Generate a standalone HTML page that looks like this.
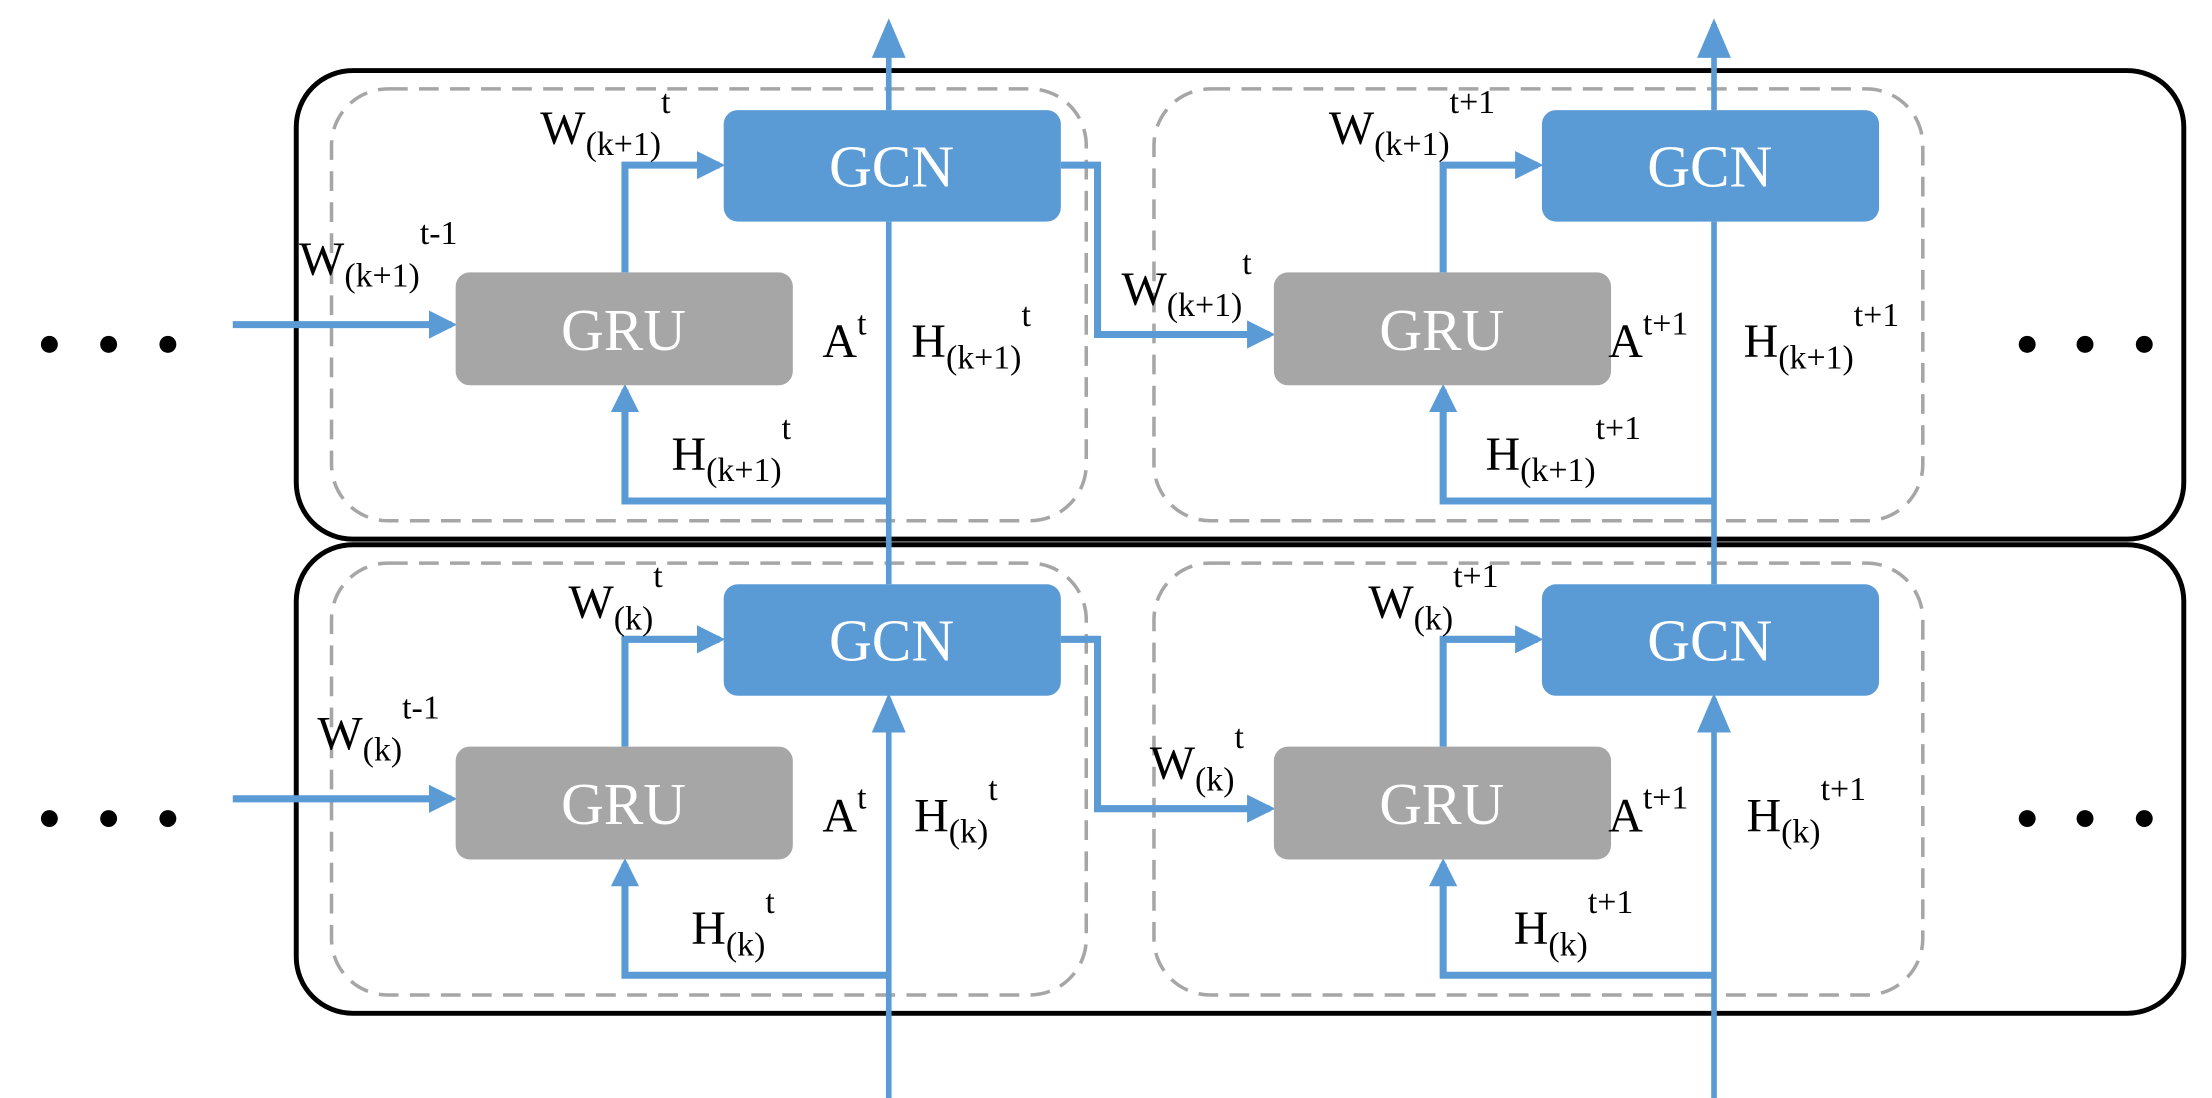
<!DOCTYPE html>
<html><head><meta charset="utf-8"><style>html,body{margin:0;padding:0;background:#fff}svg{display:block}svg text{font-family:"Liberation Serif","DejaVu Serif","Times New Roman",serif}</style></head>
<body>
<svg width="2212" height="1098" viewBox="0 0 1568 778" preserveAspectRatio="none" xmlns="http://www.w3.org/2000/svg">
<defs>
<marker id="ah" markerWidth="4" markerHeight="4" refX="3.2" refY="2" orient="auto" markerUnits="strokeWidth"><path d="M0,0 L4,2 L0,4 z" fill="#5b9bd5"/></marker>
<marker id="ah2" markerWidth="7" markerHeight="6" refX="6" refY="3" orient="auto" markerUnits="strokeWidth"><path d="M0,0 L7,3 L0,6 z" fill="#5b9bd5"/></marker>
<g id="row">
  <rect x="210" y="0" width="1338" height="332" rx="40" fill="none" stroke="#000" stroke-width="3.5"/>
  <rect x="235" y="13" width="535" height="306" rx="40" fill="none" stroke="#a6a6a6" stroke-width="2.5" stroke-dasharray="14 8"/>
  <rect x="818" y="13" width="545" height="306" rx="40" fill="none" stroke="#a6a6a6" stroke-width="2.5" stroke-dasharray="14 8"/>
  <line x1="165" y1="180" x2="320" y2="180" stroke="#5b9bd5" stroke-width="5" marker-end="url(#ah)"/>
  <polyline points="443,143 443,67 510,67" fill="none" stroke="#5b9bd5" stroke-width="5" marker-end="url(#ah)"/>
  <polyline points="1023,143 1023,67 1090,67" fill="none" stroke="#5b9bd5" stroke-width="5" marker-end="url(#ah)"/>
  <polyline points="752,67 778,67 778,187 900,187" fill="none" stroke="#5b9bd5" stroke-width="5" marker-end="url(#ah)"/>
  <polyline points="630,305 443,305 443,226" fill="none" stroke="#5b9bd5" stroke-width="5" marker-end="url(#ah)"/>
  <polyline points="1215,305 1023,305 1023,226" fill="none" stroke="#5b9bd5" stroke-width="5" marker-end="url(#ah)"/>
  <rect x="513" y="28" width="239" height="79" rx="10" fill="#5b9bd5"/>
  <rect x="1093" y="28" width="239" height="79" rx="10" fill="#5b9bd5"/>
  <rect x="323" y="143" width="239" height="80" rx="10" fill="#a6a6a6"/>
  <rect x="903" y="143" width="239" height="80" rx="10" fill="#a6a6a6"/>
  <text x="632" y="82" font-size="42" fill="#fff" text-anchor="middle">GCN</text>
  <text x="1212" y="82" font-size="42" fill="#fff" text-anchor="middle">GCN</text>
  <text x="442" y="198" font-size="42" fill="#fff" text-anchor="middle">GRU</text>
  <text x="1022" y="198" font-size="42" fill="#fff" text-anchor="middle">GRU</text>
  <circle cx="35" cy="194" r="6" fill="#000"/><circle cx="77" cy="194" r="6" fill="#000"/><circle cx="119" cy="194" r="6" fill="#000"/>
  <circle cx="1437" cy="194" r="6" fill="#000"/><circle cx="1478" cy="194" r="6" fill="#000"/><circle cx="1520" cy="194" r="6" fill="#000"/>
</g>
</defs>
<use href="#row" x="0" y="50"/>
<use href="#row" x="0" y="386"/>
<line x1="630" y1="778" x2="630" y2="495" stroke="#5b9bd5" stroke-width="4" marker-end="url(#ah2)"/>
<line x1="1215" y1="778" x2="1215" y2="495" stroke="#5b9bd5" stroke-width="4" marker-end="url(#ah2)"/>
<line x1="630" y1="414" x2="630" y2="157" stroke="#5b9bd5" stroke-width="4"/>
<line x1="1215" y1="414" x2="1215" y2="157" stroke="#5b9bd5" stroke-width="4"/>
<line x1="630" y1="78" x2="630" y2="17" stroke="#5b9bd5" stroke-width="4" marker-end="url(#ah2)"/>
<line x1="1215" y1="78" x2="1215" y2="17" stroke="#5b9bd5" stroke-width="4" marker-end="url(#ah2)"/>
<g font-size="34" fill="#000">
<text x="383" y="102">W<tspan font-size="24" dy="8">(k+1)</tspan><tspan font-size="24" dy="-30">t</tspan></text>
<text x="212" y="195">W<tspan font-size="24" dy="8">(k+1)</tspan><tspan font-size="24" dy="-30">t-1</tspan></text>
<text x="583" y="253">A<tspan font-size="24" dy="-16">t</tspan></text>
<text x="646" y="253">H<tspan font-size="24" dy="8">(k+1)</tspan><tspan font-size="24" dy="-30">t</tspan></text>
<text x="476" y="333">H<tspan font-size="24" dy="8">(k+1)</tspan><tspan font-size="24" dy="-30">t</tspan></text>
<text x="942" y="102">W<tspan font-size="24" dy="8">(k+1)</tspan><tspan font-size="24" dy="-30">t+1</tspan></text>
<text x="795" y="216">W<tspan font-size="24" dy="8">(k+1)</tspan><tspan font-size="24" dy="-30">t</tspan></text>
<text x="1140" y="253">A<tspan font-size="24" dy="-16">t+1</tspan></text>
<text x="1236" y="253">H<tspan font-size="24" dy="8">(k+1)</tspan><tspan font-size="24" dy="-30">t+1</tspan></text>
<text x="1053" y="333">H<tspan font-size="24" dy="8">(k+1)</tspan><tspan font-size="24" dy="-30">t+1</tspan></text>
<text x="403" y="438">W<tspan font-size="24" dy="8">(k)</tspan><tspan font-size="24" dy="-30">t</tspan></text>
<text x="225" y="531">W<tspan font-size="24" dy="8">(k)</tspan><tspan font-size="24" dy="-30">t-1</tspan></text>
<text x="583" y="589">A<tspan font-size="24" dy="-16">t</tspan></text>
<text x="648" y="589">H<tspan font-size="24" dy="8">(k)</tspan><tspan font-size="24" dy="-30">t</tspan></text>
<text x="490" y="669">H<tspan font-size="24" dy="8">(k)</tspan><tspan font-size="24" dy="-30">t</tspan></text>
<text x="970" y="438">W<tspan font-size="24" dy="8">(k)</tspan><tspan font-size="24" dy="-30">t+1</tspan></text>
<text x="815" y="552">W<tspan font-size="24" dy="8">(k)</tspan><tspan font-size="24" dy="-30">t</tspan></text>
<text x="1140" y="589">A<tspan font-size="24" dy="-16">t+1</tspan></text>
<text x="1238" y="589">H<tspan font-size="24" dy="8">(k)</tspan><tspan font-size="24" dy="-30">t+1</tspan></text>
<text x="1073" y="669">H<tspan font-size="24" dy="8">(k)</tspan><tspan font-size="24" dy="-30">t+1</tspan></text>
</g>
</svg>
</body></html>
